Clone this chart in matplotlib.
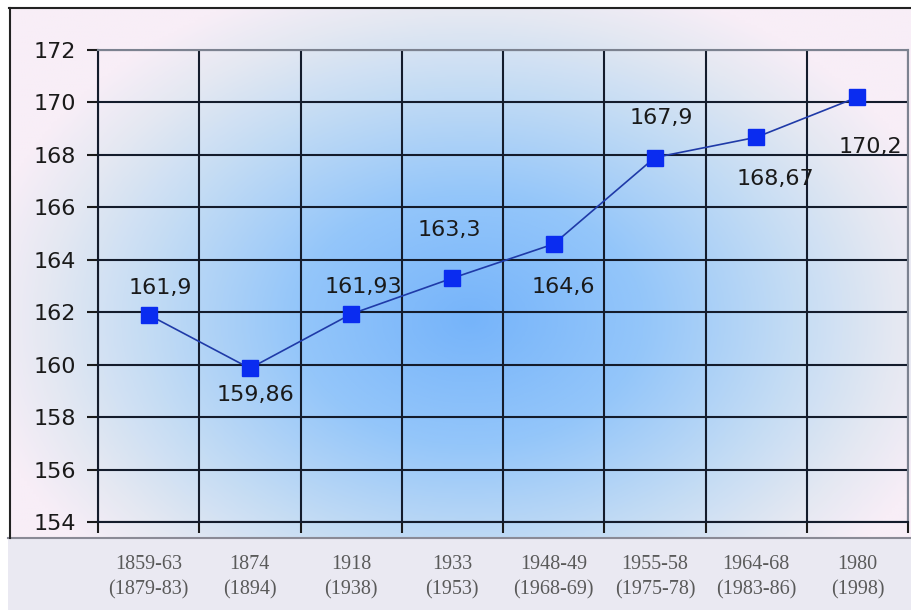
import numpy as np
import matplotlib
matplotlib.use("Agg")
import matplotlib.pyplot as plt
from matplotlib.colors import LinearSegmentedColormap
from matplotlib.patches import Rectangle
from matplotlib.lines import Line2D

# data
periods = ["1859-63\n(1879-83)", "1874\n(1894)", "1918\n(1938)", "1933\n(1953)",
           "1948-49\n(1968-69)", "1955-58\n(1975-78)", "1964-68\n(1983-86)", "1980\n(1998)"]
heights = [161.9, 159.86, 161.93, 163.3, 164.6, 167.9, 168.67, 170.2]
labels = ["161,9", "159,86", "161,93", "163,3", "164,6", "167,9", "168,67", "170,2"]
# label offsets in pixels (dx, dy)
offsets = [(12, 27), (6, -27), (12, 27), (-3, 48), (10, -43), (6, 40), (19, -42), (13, -50)]

W, H = 912, 610
fig = plt.figure(figsize=(W / 100, H / 100), dpi=100)
fig.patch.set_facecolor("white")

# background gradient + frame, drawn in pixel coords on a full-figure axes
bg = fig.add_axes([0, 0, 1, 1], zorder=0)
bg.set_xlim(0, W)
bg.set_ylim(H, 0)
bg.axis("off")

xs = np.linspace(10, W, 300)
ys = np.linspace(8, 538, 200)
gx, gy = np.meshgrid(xs, ys)
t = np.sqrt(((gx - 470) / 500) ** 2 + ((gy - 320) / 360) ** 2)
t = np.clip(t, 0, 1)
cmap = LinearSegmentedColormap.from_list(
    "glow", [(0.0, "#76b4fa"), (0.35, "#94c6fa"), (0.65, "#c4dcf4"),
             (0.85, "#e4e8f2"), (1.0, "#f8eef7")])
bg.imshow(cmap(t), extent=[10, W, 538, 8], aspect="auto", interpolation="bilinear")

bg.add_patch(Rectangle((8, 538), W - 8, H - 538, facecolor="#eae9f2",
                       edgecolor="none"))
bg.add_line(Line2D([8, W], [538, 538], color="#8a8a96", lw=1.5))
bg.add_line(Line2D([9, W], [8, 8], color="#222222", lw=1.5))
bg.add_line(Line2D([10, 10], [8, 538], color="#222222", lw=1.5))

# main plot
left, right, top, bottom = 98, 908, 50, 522
ax = fig.add_axes([left / W, (H - bottom) / H, (right - left) / W, (bottom - top) / H],
                  zorder=2)
ax.patch.set_alpha(0)

x = np.arange(len(heights))
ax.plot(x, heights, color="#1f3aa8", lw=1.2, marker="s", markersize=11,
        markerfacecolor="#0a2cf0", markeredgecolor="#0a2cf0", zorder=4)

for xi, yi, lab, (dx, dy) in zip(x, heights, labels, offsets):
    ax.annotate(lab, (xi, yi), xytext=(dx, dy), textcoords="offset pixels",
                ha="center", va="center", fontsize=16, color="#1a1a1a",
                family="DejaVu Sans", zorder=5)

ax.set_xlim(-0.5, len(heights) - 0.5)
ax.set_ylim(154, 172)
ax.set_yticks(np.arange(154, 173, 2))
ax.set_yticklabels([str(v) for v in range(154, 173, 2)], fontsize=16,
                   family="DejaVu Sans", color="#1a1a1a")
ax.tick_params(axis="y", length=8, width=1.5, color="#1a1a1a", pad=8)

ax.set_xticks(x)
ax.set_xticklabels(periods, fontsize=14.5, family="Liberation Serif",
                   color="#5a5a5a", linespacing=1.4)
ax.tick_params(axis="x", which="major", length=0, pad=24)
ax.set_xticks(np.arange(-0.5, len(heights), 1.0), minor=True)
ax.tick_params(axis="x", which="minor", length=8, width=1.5, color="#1a1a1a")

ax.grid(axis="y", which="major", color="#141c2c", lw=1.5)
ax.grid(axis="x", which="minor", color="#141c2c", lw=1.5)
ax.grid(axis="x", which="major", visible=False)
ax.set_axisbelow(True)

for s in ["left", "bottom"]:
    ax.spines[s].set_color("#141c2c")
    ax.spines[s].set_linewidth(1.5)
for s in ["top", "right"]:
    ax.spines[s].set_color("#7c8290")
    ax.spines[s].set_linewidth(1.5)

fig.savefig("out.png", dpi=100)
